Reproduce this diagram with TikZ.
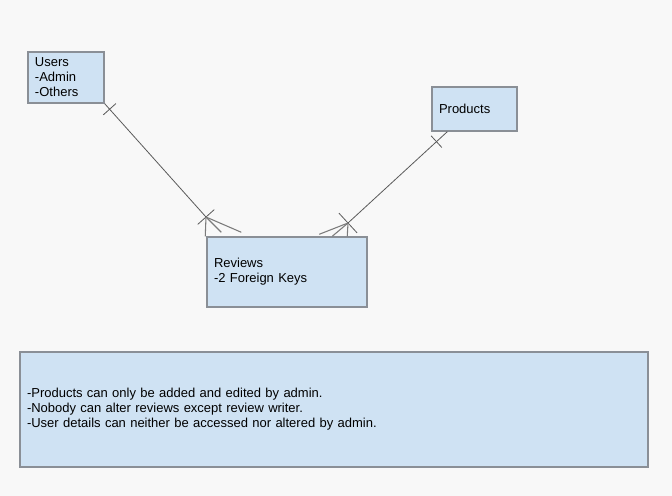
\documentclass[tikz,border=0pt]{standalone}
\usepackage{fontspec}
\setmainfont{Liberation Sans}
\usetikzlibrary{calc}
\definecolor{boxfill}{HTML}{CFE2F3}
\definecolor{boxline}{HTML}{8A8F96}
\definecolor{linkline}{HTML}{5A5A5A}
\definecolor{canvas}{HTML}{F8F8F8}
\tikzset{
  entity/.style={rectangle, draw=boxline, fill=boxfill, line width=1.1pt,
    align=left, inner xsep=5.25pt, inner ysep=0pt,
    font=\fontsize{9.75}{11.25}\selectfont},
  link/.style={draw=linkline, line width=0.6pt},
  prong/.style={draw=linkline!80, line width=0.8pt}
}
\begin{document}
\begin{tikzpicture}[x=0.75pt, y=-0.75pt]
% Canvas
\fill[canvas] (0,0) rectangle (672,496);
\useasboundingbox (0,0) rectangle (672,496);

% === Entities ===
\node[entity, text width=46.5pt, minimum height=38.25pt]
  (users) at (66,77.5) {Users\\-Admin\\-Others};
\node[entity, text width=53.25pt, minimum height=33pt]
  (products) at (474.5,109) {Products};
\node[entity, text width=109.5pt, minimum height=52.5pt]
  (reviews) at (287,272) {Reviews\\-2 Foreign Keys};

% === Notes ===
\node[entity, text width=460.5pt, minimum height=86.25pt]
  (notes) at (334,409.5) {-Products can only be added and edited by admin.\\
  -Nobody can alter reviews except review writer.\\
  -User details can neither be accessed nor altered by admin.};

% === Relations ===
\coordinate (ufoot) at (206,217);
\coordinate (pfoot) at (348,223);
\coordinate (pstart) at ($(products.south west)+(16,0)$);

% Users -> Reviews
\draw[link] (users.south east) -- (ufoot);
\draw[link] ($(users.south east)!5.5pt!(ufoot)!6.4pt!90:(ufoot)$)
  -- ($(users.south east)!5.5pt!(ufoot)!6.4pt!-90:(ufoot)$);
\draw[link] ($(ufoot)!8.3pt!90:(users.south east)$)
  -- ($(ufoot)!8.3pt!-90:(users.south east)$);
\foreach \dx/\dy in {-1/0, 15/-4, 35/-4}
  \draw[prong] (ufoot) -- ($(reviews.north west)+(\dx,\dy)$);

% Products -> Reviews
\draw[link] (pstart) -- (pfoot);
\draw[link] ($(pstart)!11pt!(pfoot)!6pt!90:(pfoot)$)
  -- ($(pstart)!11pt!(pfoot)!6pt!-90:(pfoot)$);
\draw[link] ($(pfoot)!10pt!90:(pstart)$)
  -- ($(pfoot)!10pt!-90:(pstart)$);
\foreach \dx/\dy in {141/0, 126/0, 113/-2}
  \draw[prong] (pfoot) -- ($(reviews.north west)+(\dx,\dy)$);
\end{tikzpicture}
\end{document}
